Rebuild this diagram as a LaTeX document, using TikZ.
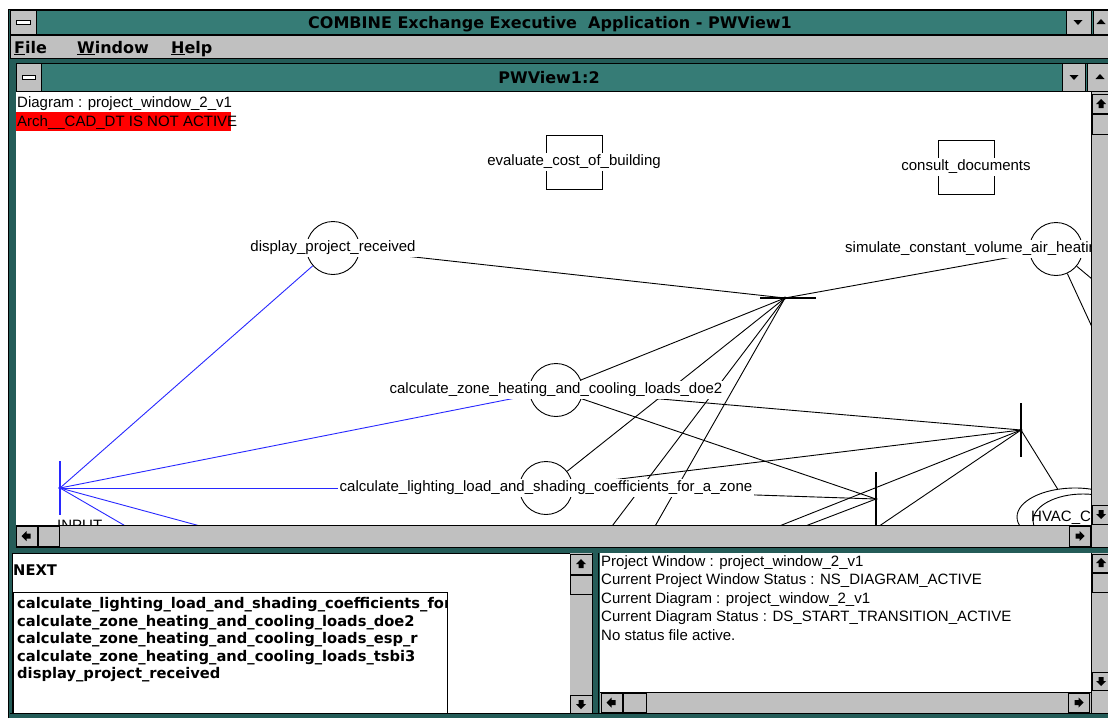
\documentclass[tikz,border=0pt]{standalone}
\usepackage{fontspec}
\setmainfont{Liberation Sans}
\newfontfamily\sysfont{DejaVu Sans}
\usetikzlibrary{shapes.geometric}

\definecolor{winteal}{RGB}{54,124,118}
\definecolor{winframe}{RGB}{36,92,88}
\definecolor{wingray}{RGB}{192,192,192}
\definecolor{inblue}{RGB}{40,40,255}
\definecolor{alertred}{RGB}{255,0,0}

\newcommand{\dgfont}{\fontsize{15}{17}\selectfont}
\newcommand{\sysbold}{\sysfont\bfseries\fontsize{16}{18}\selectfont}
\newcommand{\listfont}{\sysfont\bfseries\fontsize{14.7}{17}\selectfont}

% scroll bar arrow: x, y, angle
\newcommand{\scrollarrow}[3]{%
  \fill[rotate around={#3:(#1,#2)}] (#1,#2) ++(0,-5) -- ++(5,5) -- ++(-2.5,0)
    -- ++(0,4) -- ++(-5,0) -- ++(0,-4) -- ++(-2.5,0) -- cycle;}
% caption button triangle: x, y, angle
\newcommand{\captri}[3]{%
  \fill[rotate around={#3:(#1,#2)}] (#1,#2) ++(-4.5,2) -- ++(9,0) -- ++(-4.5,-5) -- cycle;}

\begin{document}
\begin{tikzpicture}[x=1pt, y=-1pt,
    proc/.style={circle, draw, line width=0.9pt, minimum size=53pt, inner sep=0pt},
    ext/.style={draw, line width=0.9pt, minimum width=56pt, minimum height=54pt},
    lbl/.style={fill=white, inner sep=2pt, text height=11pt, text depth=3.5pt, font=\dgfont},
    conn/.style={line width=0.9pt},
    inconn/.style={line width=0.9pt, draw=inblue},
    bar/.style={line width=1.2pt},
    btn/.style={fill=wingray, draw=black, line width=0.8pt},
    txt/.style={anchor=base west, inner sep=0pt, font=\dgfont},
    menu/.style={anchor=base west, inner sep=0pt, font=\sysbold},
    item/.style={anchor=base west, inner sep=0pt, font=\listfont}]
\useasboundingbox (0,0) rectangle (1108,718);
\fill[white] (0,0) rectangle (1108,718);

% Main window frame
\fill[winframe] (8,9) rectangle (1108,718);
\draw[line width=1pt] (8,718) -- (8,9) -- (1108,9);

% Title bar
\draw[fill=winteal, line width=0.8pt] (10,10) rectangle (1110,34);
\draw[btn] (10,10) rectangle (36,34);
\draw[fill=white, line width=0.6pt] (16,20) rectangle (30,24);
\node[font=\sysbold, anchor=base] (title) at (550,28) {COMBINE Exchange Executive\ \ Application - PWView1};
\draw[btn] (1066,10) rectangle (1091,34);
\captri{1078}{22}{180}
\draw[btn] (1093,10) rectangle (1118,34);
\captri{1101}{22}{0}

% Menu bar
\draw[fill=wingray, line width=0.8pt] (10,35) rectangle (1110,58);
\node[menu] (mfile) at (14,53) {\underline{F}ile};
\node[menu] (mwin) at (77,53) {\underline{W}indow};
\node[menu] (mhelp) at (171,53) {\underline{H}elp};

% Child window PWView1:2
\draw[fill=winteal, line width=0.8pt] (16,63) rectangle (1110,91);
\draw[btn] (16,63) rectangle (41,91);
\draw[fill=white, line width=0.6pt] (22,75) rectangle (35,79);
\node[font=\sysbold, anchor=base] (wtitle) at (549,83) {PWView1:2};
\draw[btn] (1062,63) rectangle (1085,91);
\captri{1074}{77}{180}
\draw[btn] (1087,63) rectangle (1112,91);
\captri{1100}{77}{0}
\fill[white] (16,92) rectangle (1091,525);

% Diagram
\begin{scope}
\clip (16,92) rectangle (1091,525);
\node[txt] (diag) at (17,107) {Diagram : project\_window\_2\_v1};
\fill[alertred] (16,112) rectangle (231,131);
\node[txt] (alert) at (17,126) {Arch\_\_CAD\_DT IS NOT ACTIVE};

% tools
\node[ext] (evalbox) at (574,162) {};
\node[ext] (consbox) at (966,167) {};

% activities
\node[proc] (dpr) at (333,248) {};
\node[proc] (sim) at (1056,249) {};
\node[proc] (doe2) at (556,390) {};
\node[proc] (light) at (546,488) {};
\node[ellipse, draw, line width=0.9pt, minimum width=116pt, minimum height=58pt] (hvac) at (1075,517) {};
\draw[line width=0.9pt] (1083,521) ellipse [x radius=50, y radius=27];

% transitions
\coordinate (input) at (60,488);
\coordinate (j1) at (785,298);
\coordinate (j2) at (1021,430);
\coordinate (j3) at (876,499);
% far ends below and right of the view
\coordinate (ina) at (253,600);
\coordinate (inb) at (473,600);
\coordinate (j1a) at (556,600);
\coordinate (j1b) at (613,600);
\coordinate (j2a) at (593,600);
\coordinate (j2b) at (770,600);
\coordinate (j3a) at (612,600);
\coordinate (sima) at (1110,366);
\coordinate (simb) at (1122,304);

% input arcs
\draw[inconn] (input) -- (dpr);
\draw[inconn] (input) -- (doe2);
\draw[inconn] (input) -- (light);
\draw[inconn] (input) -- (ina);
\draw[inconn] (input) -- (inb);
\draw[inblue, bar] (input) ++(0,-27) -- ++(0,54);
\fill[inblue] (input) circle (1.8);

% arcs
\draw[conn] (j1) -- (dpr);
\draw[conn] (j1) -- (sim);
\draw[conn] (j1) -- (doe2);
\draw[conn] (j1) -- (light);
\draw[conn] (j1) -- (j1a);
\draw[conn] (j1) -- (j1b);
\draw[conn] (doe2) -- (j2);
\draw[conn] (light) -- (j2);
\draw[conn] (j2) -- (hvac);
\draw[conn] (j2) -- (j2a);
\draw[conn] (j2) -- (j2b);
\draw[conn] (doe2) -- (j3);
\draw[conn] (light) -- (j3);
\draw[conn] (j3) -- (j3a);
\draw[conn] (sim) -- (sima);
\draw[conn] (sim) -- (simb);
\draw[bar] (j1) ++(-25,0) -- ++(56,0);
\draw[bar] (j2) ++(0,-27) -- ++(0,54);
\draw[bar] (j3) ++(0,-27) -- ++(0,60);
\fill (j1) circle (1.6);
\fill (j2) circle (1.6);
\fill (j3) circle (1.6);

% labels
\node[lbl] (evall) at (evalbox) {evaluate\_cost\_of\_building};
\node[lbl] (consl) at (consbox) {consult\_documents};
\node[lbl] (dprl) at (dpr) {display\_project\_received};
\node[lbl, anchor=west] (siml) at (843,249) {simulate\_constant\_volume\_air\_heating};
\node[lbl] (doe2l) at (doe2) {calculate\_zone\_heating\_and\_cooling\_loads\_doe2};
\node[lbl] (lightl) at (light) {calculate\_lighting\_load\_and\_shading\_coefficients\_for\_a\_zone};
\node[txt] (hvacl) at (1031,521) {HVAC\_C};
\node[txt] (inputl) at (57,530) {INPUT};
\end{scope}

% Diagram scroll bars
\fill[wingray] (1091,92) rectangle (1110,547);
\draw[line width=0.8pt] (1091,92) -- (1091,547);
\draw[btn] (1092,94) rectangle (1112,113);
\scrollarrow{1101}{104}{0}
\draw[btn] (1092,114) rectangle (1112,134);
\draw[btn] (1092,505) rectangle (1112,524);
\scrollarrow{1101}{514}{180}
\fill[wingray] (16,525) rectangle (1091,547);
\draw[line width=0.8pt] (16,525) -- (1091,525) (16,547) -- (1110,547);
\draw[btn] (16,526) rectangle (37,546);
\scrollarrow{26.5}{536}{90}
\draw[btn] (38,526) rectangle (59,546);
\draw[btn] (1069,526) rectangle (1090,546);
\scrollarrow{1079.5}{536}{-90}

% Left pane: NEXT list
\fill[white] (12,553) rectangle (570,713);
\draw[line width=0.8pt] (12,553) rectangle (592,713);
\node[menu, font=\listfont] (next) at (13,575.5) {NEXT};
\draw[fill=white, line width=0.8pt] (13,592) rectangle (447,713);
\begin{scope}
\clip (13,592) rectangle (446,713);
\node[item] (nxa) at (17,608.5) {calculate\_lighting\_load\_and\_shading\_coefficients\_for\_a\_zone};
\node[item] (nxb) at (17,626) {calculate\_zone\_heating\_and\_cooling\_loads\_doe2};
\node[item] (nxc) at (17,643.5) {calculate\_zone\_heating\_and\_cooling\_loads\_esp\_r};
\node[item] (nxd) at (17,661) {calculate\_zone\_heating\_and\_cooling\_loads\_tsbi3};
\node[item] (nxe) at (17,678.5) {display\_project\_received};
\end{scope}
\fill[wingray] (570,553) rectangle (592,713);
\draw[btn] (570,554) rectangle (592,574);
\scrollarrow{581}{564}{0}
\draw[btn] (570,575) rectangle (592,594);
\draw[btn] (570,695) rectangle (592,713);
\scrollarrow{581}{704}{180}

% Right pane: status
\fill[white] (600,553) rectangle (1091,692);
\draw[line width=0.8pt] (598,553) -- (598,713);
\node[txt] (st1) at (601,566) {Project Window : project\_window\_2\_v1};
\node[txt] (st2) at (601,584.5) {Current Project Window Status : NS\_DIAGRAM\_ACTIVE};
\node[txt] (st3) at (601,603) {Current Diagram : project\_window\_2\_v1};
\node[txt] (st4) at (601,621.5) {Current Diagram Status : DS\_START\_TRANSITION\_ACTIVE};
\node[txt] (st5) at (601,640) {No status file active.};
\fill[wingray] (1091,553) rectangle (1110,713);
\draw[line width=0.8pt] (1091,553) -- (1091,713);
\draw[btn] (1092,554) rectangle (1112,572);
\scrollarrow{1101}{563}{0}
\draw[btn] (1092,573) rectangle (1112,592);
\draw[btn] (1092,672) rectangle (1112,690);
\scrollarrow{1101}{681}{180}
\fill[wingray] (600,692) rectangle (1091,713);
\draw[line width=0.8pt] (600,692) -- (1091,692);
\draw[btn] (601,693) rectangle (622,712);
\scrollarrow{611.5}{702.5}{90}
\draw[btn] (623,693) rectangle (646,712);
\draw[btn] (1068,693) rectangle (1089,712);
\scrollarrow{1078.5}{702.5}{-90}
\draw[line width=0.8pt] (10,713) -- (1108,713);
\end{tikzpicture}
\end{document}
